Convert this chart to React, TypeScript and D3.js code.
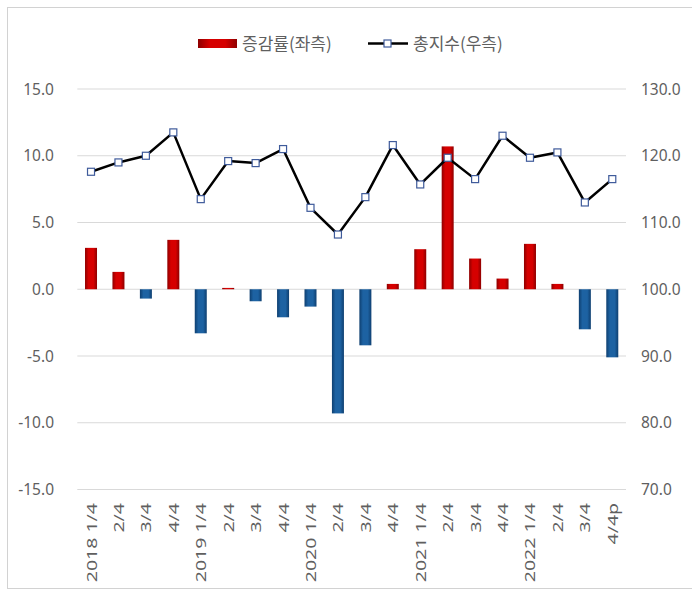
import React from "react";
import * as d3 from "d3";

const categories = [
  "2018 1/4", "2/4", "3/4", "4/4",
  "2019 1/4", "2/4 ", "3/4 ", "4/4 ",
  "2020 1/4", "2/4  ", "3/4  ", "4/4  ",
  "2021 1/4", "2/4   ", "3/4   ", "4/4   ",
  "2022 1/4", "2/4    ", "3/4    ", "4/4p",
];
const changeRate = [3.1, 1.3, -0.7, 3.7, -3.3, 0.1, -0.9, -2.1, -1.3, -9.3, -4.2, 0.4, 3.0, 10.7, 2.3, 0.8, 3.4, 0.4, -3.0, -5.1];
const totalIndex = [117.6, 119.0, 120.0, 123.5, 113.5, 119.2, 118.9, 121.0, 112.2, 108.2, 113.8, 121.6, 115.7, 119.7, 116.5, 123.0, 119.7, 120.5, 113.0, 116.5];
const leftTicks = [-15, -10, -5, 0, 5, 10, 15];
const rightTicks = [70, 80, 90, 100, 110, 120, 130];
const legendLabels = ["증감률(좌측)", "총지수(우측)"];

const W = 692;
const H = 591;

export default function App() {
  const x = d3.scaleBand<string>().domain(categories).range([77.3, 626]);
  const yL = d3.scaleLinear().domain([-15, 15]).range([489.5, 89]);
  const yR = d3.scaleLinear().domain([70, 130]).range([489.5, 89]);
  const barW = 12;
  const cx = (c: string) => (x(c) ?? 0) + x.bandwidth() / 2;
  const line = d3
    .line<number>()
    .x((_, i) => cx(categories[i]))
    .y((d) => yR(d));
  const textColor = "#5f5f5f";
  const font = "'Noto Sans', sans-serif";

  return (
    <svg
      width={W}
      height={H}
      style={{ position: "absolute", left: 0, top: 0, background: "#fff" }}
    >
      <defs>
        <linearGradient id="redG" x1="0" x2="1" y1="0" y2="0">
          <stop offset="0%" stopColor="#8e0000" />
          <stop offset="30%" stopColor="#d60000" />
          <stop offset="70%" stopColor="#d60000" />
          <stop offset="100%" stopColor="#8e0000" />
        </linearGradient>
        <linearGradient id="blueG" x1="0" x2="1" y1="0" y2="0">
          <stop offset="0%" stopColor="#0e3f70" />
          <stop offset="30%" stopColor="#1d62a2" />
          <stop offset="70%" stopColor="#1d62a2" />
          <stop offset="100%" stopColor="#0e3f70" />
        </linearGradient>
      </defs>
      <rect x={7.5} y={7.5} width={W} height={581} fill="#fff" stroke="#d2d2d2" strokeWidth={1} />

      {/* gridlines */}
      {leftTicks.map((t) => (
        <line key={"g" + t} x1={77.3} x2={626} y1={yL(t)} y2={yL(t)} stroke="#d9d9d9" strokeWidth={1} />
      ))}

      {/* left tick labels */}
      {leftTicks.map((t) => (
        <text key={"l" + t} x={54} y={yL(t)} dy="0.36em" textAnchor="end" fontFamily={font} fontSize={15.5} fill={textColor}>
          {t.toFixed(1)}
        </text>
      ))}
      {/* right tick labels */}
      {rightTicks.map((t) => (
        <text key={"r" + t} x={641} y={yR(t)} dy="0.36em" textAnchor="start" fontFamily={font} fontSize={15.5} fill={textColor}>
          {t.toFixed(1)}
        </text>
      ))}

      {/* bars */}
      {changeRate.map((v, i) => {
        const c = categories[i];
        const y0 = yL(0);
        const y1 = yL(v);
        return (
          <rect
            key={"b" + i}
            x={cx(c) - barW / 2}
            y={Math.min(y0, y1)}
            width={barW}
            height={Math.max(1, Math.abs(y1 - y0))}
            fill={v >= 0 ? "url(#redG)" : "url(#blueG)"}
          />
        );
      })}

      {/* line */}
      <path d={line(totalIndex) ?? ""} fill="none" stroke="#000" strokeWidth={2.5} strokeLinejoin="round" />
      {totalIndex.map((v, i) => (
        <rect
          key={"m" + i}
          x={cx(categories[i]) - 3.5}
          y={yR(v) - 3.5}
          width={7}
          height={7}
          fill="#fff"
          stroke="#3f5b9b"
          strokeWidth={1.2}
        />
      ))}

      {/* x labels */}
      {categories.map((c, i) => (
        <text
          key={"x" + i}
          transform={`translate(${cx(c) + 5.5},503) scale(1,1.3) rotate(-90)`}
          textAnchor="end"
          fontFamily={font}
          fontSize={15}
          fill={textColor}
        >
          {c.trim()}
        </text>
      ))}

      {/* legend */}
      <rect x={198} y={39} width={39} height={9} fill="url(#redG)" />
      <text x={242} y={43.5} dy="0.36em" fontFamily="'Noto Sans CJK KR', sans-serif" fontSize={17} fill={textColor}>
        {legendLabels[0]}
      </text>
      <line x1={368} x2={408} y1={43.5} y2={43.5} stroke="#000" strokeWidth={2.5} />
      <rect x={384} y={40} width={7} height={7} fill="#fff" stroke="#3f5b9b" strokeWidth={1.2} />
      <text x={413} y={43.5} dy="0.36em" fontFamily="'Noto Sans CJK KR', sans-serif" fontSize={17} fill={textColor}>
        {legendLabels[1]}
      </text>
    </svg>
  );
}
